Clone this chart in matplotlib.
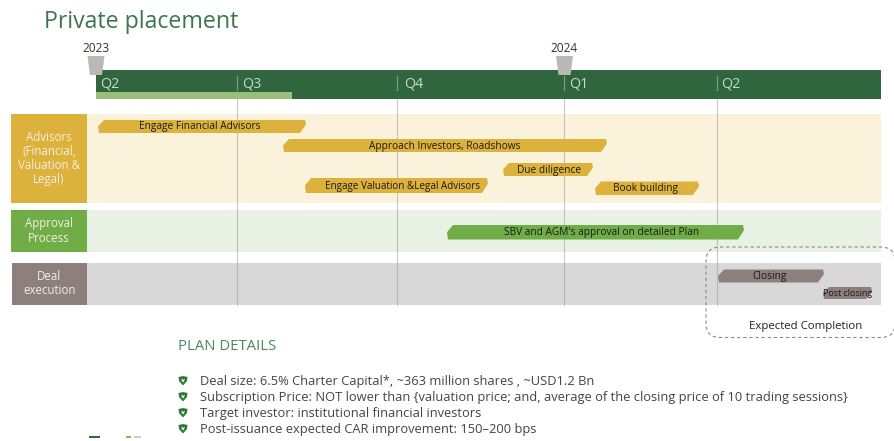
import matplotlib
matplotlib.use("Agg")
import matplotlib.pyplot as plt
from matplotlib.patches import Polygon, Rectangle, FancyBboxPatch

plt.rcParams['font.family'] = ['Open Sans', 'DejaVu Sans']

# ---- data (the chart's axes are the reference's pixel grid) ----
quarter_labels = ["Q2", "Q3", "Q4", "Q1", "Q2"]
quarter_x = [96, 237, 397, 564, 717]
quarter_label_x = [100.5, 242, 404.5, 569.5, 721.5]
timeline_end = 881
elapsed_end = 292
year_labels = ["2023", "2024"]
year_x = [96, 564.5]

row_labels = ["Advisors\n(Financial,\nValuation &\nLegal)", "Approval\nProcess", "Deal\nexecution"]
row_tops = [114, 210, 262.5]
row_bottoms = [203, 252, 304.5]
row_lefts = [11, 11, 12]
row_colors = ["#DCB23C", "#70AD47", "#8C7F7C"]
row_bgs = ["#FBF2DC", "#E8F1E3", "#D8D8D8"]

task_names = ["Engage Financial Advisors", "Approach Investors, Roadshows", "Due diligence",
              "Engage Valuation &Legal Advisors", "Book building",
              "SBV and AGM's approval on detailed Plan", "Closing", "Post closing"]
task_start = [98, 283, 503, 305, 595, 447, 718, 823]
task_end = [306, 607, 593, 488, 699, 744, 824, 872]
task_top = [120, 139, 163, 178, 181.5, 225, 269.5, 287]
task_bottom = [133, 152, 176, 193, 195, 239.5, 282.5, 299]
task_color = ["#DCB23C"] * 5 + ["#70AD47"] + ["#8C7F7C"] * 2
task_label_x = [200, 445, 549, 403, 646, 602, 770, 848]
task_fontsize = [7.3, 7.3, 7.3, 7.1, 7.3, 7.3, 7.3, 6.4]

plan_title = "PLAN DETAILS"
plan_items = ["Deal size: 6.5% Charter Capital*, ~363 million shares , ~USD1.2 Bn",
              "Subscription Price: NOT lower than {valuation price; and, average of the closing price of 10 trading sessions}",
              "Target investor: institutional financial investors",
              "Post-issuance expected CAR improvement: 150\u2013200 bps"]
plan_y = [381, 397, 413, 429]

logo_start = [89, 126, 134]
logo_end = [100, 131, 141]
logo_color = ["#2F6B35", "#8DBB3C", "#BFD8CC"]

fig = plt.figure(figsize=(8.95, 4.41), dpi=100)
ax = fig.add_axes([0, 0, 1, 1])
ax.set_xlim(0, 895)
ax.set_ylim(441, 0)
ax.axis("off")

# title
ax.text(44, 21.5, "Private placement", fontsize=16.7, color="#3C7550", va="center", ha="left")

# header
ax.add_patch(Rectangle((quarter_x[0], 70), timeline_end - quarter_x[0], 28.5, color="#30663D", lw=0, zorder=2))
ax.add_patch(Rectangle((quarter_x[0], 92), elapsed_end - quarter_x[0], 7, color="#9ABF7B", lw=0, zorder=3))
for i, (q, x, lx) in enumerate(zip(quarter_labels, quarter_x, quarter_label_x)):
    ax.text(lx, 84, q, fontsize=10.3, color="#C9D8CB", va="center", ha="left", zorder=4)
    if i > 0:
        ax.plot([x, x], [76, 90], color="#7FA088", lw=0.8, zorder=4)

# year markers
for y, x in zip(year_labels, year_x):
    ax.text(x, 48, y, fontsize=8.6, color="#333333", va="center", ha="center", zorder=5)
    ax.add_patch(Polygon([(x - 8.5, 56), (x + 8.5, 56), (x + 6, 75), (x - 6, 75)],
                         closed=True, color="#BDB7B5", lw=0, zorder=5))

# rows
for lab, t, b, l, c, bg in zip(row_labels, row_tops, row_bottoms, row_lefts, row_colors, row_bgs):
    ax.add_patch(Rectangle((87, t), timeline_end - 87, b - t, color=bg, lw=0, zorder=1))
    ax.add_patch(Rectangle((l, t), 87 - l, b - t, color=c, lw=0, zorder=2))
    ax.text((l + 87) / 2, (t + b) / 2, lab, fontsize=8.3, color="#F3EFE4", va="center", ha="center",
            linespacing=1.13, zorder=3)

# grid lines
for x in quarter_x[1:]:
    ax.plot([x, x], [98.5, 305], color="#9A9A9A", lw=0.8, alpha=0.55, zorder=2.5)

# task bars
for n, s, e, t, b, c, lx, fs in zip(task_names, task_start, task_end, task_top, task_bottom,
                                    task_color, task_label_x, task_fontsize):
    m = (t + b) / 2
    ax.add_patch(Polygon([(s + 6, t), (e - 1, t), (e, m - 2), (e - 6, b), (s + 1, b), (s, m)],
                         closed=True, color=c, lw=0, zorder=3))
    ax.text(lx, m + 0.5, n, fontsize=fs, color="#1A1A1A", va="center", ha="center", zorder=4)

# expected completion box
ax.add_patch(FancyBboxPatch((706, 247), 189, 90.5, boxstyle="round,pad=0,rounding_size=14",
                            fc="none", ec="#8A8A8A", lw=0.8, ls=(0, (3, 2.5)), zorder=5, clip_on=False))
ax.text(805.5, 326, "Expected Completion", fontsize=8.2, color="#222222", va="center", ha="center", zorder=5)

# plan details
ax.text(178, 346.5, plan_title, fontsize=10.7, color="#4B8A5E", va="center", ha="left")
for item, y in zip(plan_items, plan_y):
    ax.add_patch(Polygon([(178.5, y - 4), (183, y - 5), (187.5, y - 4), (187, y), (183, y + 4.5), (179, y)],
                         closed=True, color="#2F7A3B", lw=0, zorder=3))
    ax.add_patch(Polygon([(181, y - 1.5), (185, y - 1.5), (183, y + 1.5)], closed=True, color="white", lw=0, zorder=4))
    ax.text(200, y, item, fontsize=9.3, color="#444444", va="center", ha="left")

# cropped logo fragment at the bottom edge
for s, e, c in zip(logo_start, logo_end, logo_color):
    ax.add_patch(Rectangle((s, 436.3), e - s, 1.4, color=c, lw=0))

fig.savefig("out.png", dpi=100)
